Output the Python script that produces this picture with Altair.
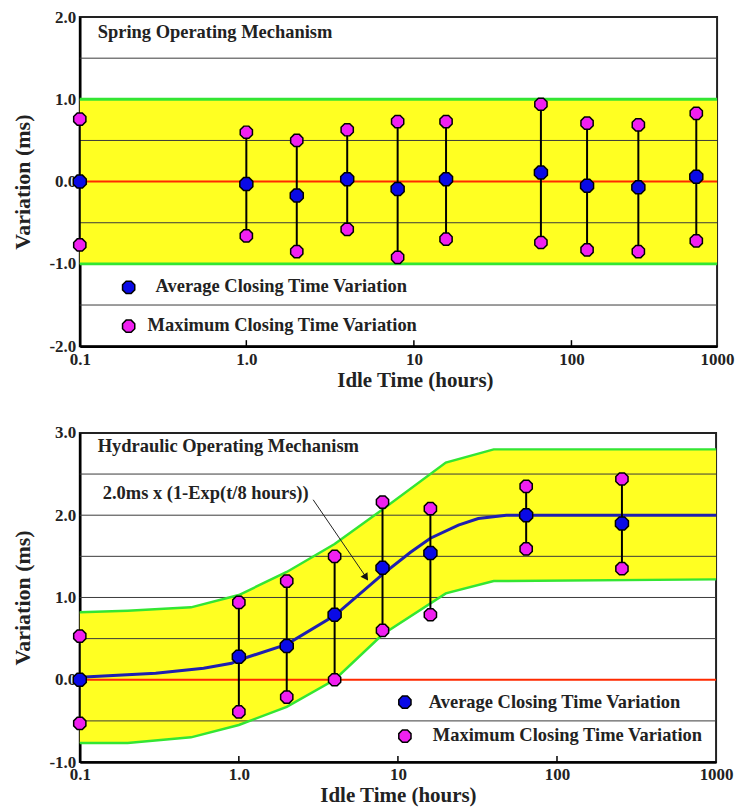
import math
import altair as alt
import pandas as pd

FONT = "Liberation Serif"

# ---------------- Spring operating mechanism (top) ----------------
spring_hours = [0.1, 1, 2, 4, 8, 16, 64, 128, 288, 720]
spring_avg = [0.0, -0.03, -0.17, 0.03, -0.09, 0.03, 0.11, -0.05, -0.07, 0.06]
spring_max = [0.76, 0.60, 0.50, 0.63, 0.73, 0.73, 0.94, 0.71, 0.69, 0.83]
spring_min = [-0.77, -0.66, -0.85, -0.58, -0.92, -0.70, -0.74, -0.83, -0.85, -0.72]
spring_band = [-1.0, 1.0]
spring_grid = [-1.5, -0.5, 0.5, 1.5]
spring_y_ticks = [-2, -1, 0, 1, 2]

# ---------------- Hydraulic operating mechanism (bottom) ----------------
hyd_hours = [0.1, 1, 2, 4, 8, 16, 64, 256]
hyd_avg = [0.0, 0.28, 0.41, 0.79, 1.36, 1.54, 2.00, 1.90]
hyd_max = [0.53, 0.94, 1.20, 1.50, 2.16, 2.08, 2.35, 2.44]
hyd_min = [-0.53, -0.39, -0.21, 0.0, 0.60, 0.79, 1.59, 1.35]
curve_hours = [0.1, 0.3, 0.6, 0.9, 1, 2, 4, 8, 12, 16, 24, 32, 48, 64, 1000]
curve_vals = [0.03, 0.08, 0.14, 0.20, 0.24, 0.43, 0.78, 1.28, 1.55, 1.72, 1.88, 1.96, 2.0, 2.0, 2.0]
band_hours = [0.1, 0.2, 0.5, 1, 2, 4, 8, 20, 40, 1000]
band_upper = [0.82, 0.84, 0.88, 1.03, 1.31, 1.65, 2.07, 2.64, 2.80, 2.80]
band_lower = [-0.77, -0.77, -0.70, -0.55, -0.33, 0.0, 0.55, 1.05, 1.20, 1.22]
hyd_grid = [-0.5, 0.5, 1.0, 1.5, 2.0, 2.5]
hyd_y_ticks = [-1, 0, 1, 2, 3]

# ---------------- shared texts ----------------
x_tick_hours = [0.1, 1, 10, 100, 1000]
x_tick_labels = ["0.1", "1.0", "10", "100", "1000"]
inner_tick_hours = [1, 10, 100]
legend_labels = ["Average Closing Time Variation", "Maximum Closing Time Variation"]
titles = ["Spring Operating Mechanism", "Hydraulic Operating Mechanism"]
formula_text = "2.0ms x (1-Exp(t/8 hours))"

BLUE = "#0a0ae6"
MAGENTA = "#f020f0"
YELLOW = "#ffff22"
GREEN = "#33e633"
RED = "#ff2a00"
CURVE = "#1f1fb0"
OCT = "M-0.41,-1L0.41,-1L1,-0.41L1,0.41L0.41,1L-0.41,1L-1,0.41L-1,-0.41Z"

H = 330
LX = "log(datum.t)/LN10"
x_tick_vals = [round(math.log10(v)) for v in x_tick_hours]
label_array = "[" + ",".join("'" + s + "'" for s in x_tick_labels) + "]"


def x_enc(scale, title_x):
    axis = alt.Axis(
        values=x_tick_vals,
        labelExpr=label_array + "[round(datum.value)+1]",
        ticks=False, grid=False, labelFlush=False, labelOverlap=False,
        labelPadding=5, labelFontSize=17,
        titleY=40, titleBaseline="alphabetic", titleX=title_x, titleFontSize=21,
    )
    return alt.X("lx:Q", scale=scale, axis=axis, title="Idle Time (hours)")


def y_enc(field, domain, ticks):
    axis = alt.Axis(
        values=ticks,
        labelExpr="(datum.value < 0 ? '-' : '') + format(abs(datum.value), '.1f')",
        ticks=False, grid=False, labelFlush=False, labelOverlap=False,
        labelPadding=4, labelFontSize=17,
        titleX=-57, titleBaseline="middle",
    )
    return alt.Y(field, scale=alt.Scale(domain=domain, nice=False, zero=False),
                 axis=axis, title="Variation (ms)")


def panel(hours, avg, mx, mn, grid, ydom, yticks, xscale, width, title_x,
          title_text, legend_pos, extra_layers):
    pts = pd.DataFrame({"t": hours, "avg": avg, "max": mx, "min": mn})
    X = x_enc(xscale, title_x)
    layers = list(extra_layers(X, width))

    grid_df = pd.DataFrame({"g": grid})
    layers.append(
        alt.Chart(grid_df).mark_rule(color="#3a3a3a", strokeWidth=1).encode(
            y=y_enc("g:Q", ydom, yticks), x=alt.value(0), x2=alt.value(width)))
    layers.append(
        alt.Chart(pd.DataFrame({"z": [0.0]})).mark_rule(color=RED, strokeWidth=2).encode(
            y=y_enc("z:Q", ydom, yticks), x=alt.value(0), x2=alt.value(width)))
    layers += list(extra_layers.after(X, width, ydom, yticks))

    base = alt.Chart(pts).transform_calculate(lx=LX)
    layers.append(base.mark_rule(color="black", strokeWidth=2).encode(
        x=X, y=y_enc("min:Q", ydom, yticks), y2="max:Q"))
    for f in ["max", "min"]:
        layers.append(base.mark_point(shape=OCT, filled=True, size=150, fill=MAGENTA,
                                      stroke="black", strokeWidth=1.5, opacity=1).encode(
            x=X, y=y_enc(f + ":Q", ydom, yticks)))
    layers.append(base.mark_point(shape=OCT, filled=True, size=170, fill=BLUE,
                                  stroke="black", strokeWidth=1.5, opacity=1).encode(
        x=X, y=y_enc("avg:Q", ydom, yticks)))

    # inner ticks on the x axis
    tk = alt.Chart(pd.DataFrame({"t": inner_tick_hours})).transform_calculate(lx=LX)
    layers.append(tk.mark_rule(color="black", strokeWidth=1.5).encode(
        x=X, y=alt.value(H - 6), y2=alt.value(H)))

    # panel title
    layers.append(alt.Chart(pd.DataFrame({"s": [title_text]})).mark_text(
        align="left", baseline="middle", font=FONT, fontWeight="bold", fontSize=18.5,
        color="#222").encode(text="s:N", x=alt.value(18), y=alt.value(legend_pos["title_y"])))

    # in-plot legend
    (mx1, my1, tx1, ty1), (mx2, my2, tx2, ty2) = legend_pos["items"]
    layers.append(alt.Chart(pd.DataFrame({"s": [legend_labels[0]]})).mark_point(
        shape=OCT, filled=True, size=150, fill=BLUE, stroke="black", strokeWidth=1.5,
        opacity=1).encode(x=alt.value(mx1), y=alt.value(my1)))
    layers.append(alt.Chart(pd.DataFrame({"s": [legend_labels[1]]})).mark_point(
        shape=OCT, filled=True, size=150, fill=MAGENTA, stroke="black", strokeWidth=1.5,
        opacity=1).encode(x=alt.value(mx2), y=alt.value(my2)))
    layers.append(alt.Chart(pd.DataFrame({"s": [legend_labels[0]]})).mark_text(
        align="left", baseline="middle", font=FONT, fontWeight="bold", fontSize=18.5,
        color="#222").encode(text="s:N", x=alt.value(tx1), y=alt.value(ty1)))
    layers.append(alt.Chart(pd.DataFrame({"s": [legend_labels[1]]})).mark_text(
        align="left", baseline="middle", font=FONT, fontWeight="bold", fontSize=18.5,
        color="#222").encode(text="s:N", x=alt.value(tx2), y=alt.value(ty2)))

    return alt.layer(*layers).properties(width=width, height=H)


class SpringExtras:
    def __call__(self, X, width):
        band = pd.DataFrame({"lo": [spring_band[0]], "hi": [spring_band[1]]})
        yield alt.Chart(band).mark_rect(color=YELLOW, opacity=1).encode(
            y=y_enc("lo:Q", [-2, 2], spring_y_ticks), y2="hi:Q",
            x=alt.value(0), x2=alt.value(width))

    def after(self, X, width, ydom, yticks):
        yield alt.Chart(pd.DataFrame({"b": spring_band})).mark_rule(
            color=GREEN, strokeWidth=3).encode(
            y=y_enc("b:Q", ydom, yticks), x=alt.value(0), x2=alt.value(width))


class HydExtras:
    def __call__(self, X, width):
        band = pd.DataFrame({"t": band_hours, "up": band_upper, "lo": band_lower})
        yield alt.Chart(band).transform_calculate(lx=LX).mark_area(
            color=YELLOW, opacity=1).encode(
            x=X, y=y_enc("lo:Q", [-1, 3], hyd_y_ticks), y2="up:Q")

    def after(self, X, width, ydom, yticks):
        band = pd.DataFrame({"t": band_hours, "up": band_upper, "lo": band_lower})
        bb = alt.Chart(band).transform_calculate(lx=LX)
        for f in ["up", "lo"]:
            yield bb.mark_line(color=GREEN, strokeWidth=2.5).encode(
                x=X, y=y_enc(f + ":Q", ydom, yticks))
        cv = pd.DataFrame({"t": curve_hours, "v": curve_vals})
        yield alt.Chart(cv).transform_calculate(lx=LX).mark_line(
            color=CURVE, strokeWidth=3).encode(x=X, y=y_enc("v:Q", ydom, yticks))
        # annotation text + arrow
        yield alt.Chart(pd.DataFrame({"s": [formula_text]})).mark_text(
            align="left", baseline="middle", font=FONT, fontWeight="bold", fontSize=18.5,
            color="#222").encode(text="s:N", x=alt.value(23), y=alt.value(60))
        yield alt.Chart(pd.DataFrame({"s": ["arrow"]})).mark_rule(
            color="#222", strokeWidth=1).encode(
            x=alt.value(234), y=alt.value(67), x2=alt.value(288), y2=alt.value(146))
        yield alt.Chart(pd.DataFrame({"s": ["head"]})).mark_point(
            shape="triangle-up", filled=True, size=70, color="#111", opacity=1,
            angle=146).encode(x=alt.value(287), y=alt.value(145))


top = panel(
    spring_hours, spring_avg, spring_max, spring_min, spring_grid, [-2, 2],
    spring_y_ticks,
    alt.Scale(domain=[-1, 0, 1, 2, 3], range=[0, 167, 335, 493, 639], nice=False, zero=False),
    639, 336, titles[0],
    {"title_y": 15, "items": [(49, 271, 76, 270), (49, 310, 68, 309)]},
    SpringExtras(),
)

bottom = panel(
    hyd_hours, hyd_avg, hyd_max, hyd_min, hyd_grid, [-1, 3], hyd_y_ticks,
    alt.Scale(domain=[-1, 3], nice=False, zero=False),
    638, 319, titles[1],
    {"title_y": 13, "items": [(326, 270, 350, 270), (326, 304, 354, 303)]},
    HydExtras(),
)

chart = alt.vconcat(top, bottom, spacing=32).configure(
    padding={"left": 11, "top": 6, "right": 5, "bottom": 0},
    background="white",
).configure_view(
    stroke="#222", strokeWidth=2
).configure_axis(
    labelFont=FONT, labelFontWeight="bold", labelColor="#222",
    titleFont=FONT, titleFontWeight="bold", titleFontSize=22, titleColor="#222",
    domainColor="black", domainWidth=2.5,
)

chart.save("out.html", embed_options={"renderer": "svg", "actions": False})
